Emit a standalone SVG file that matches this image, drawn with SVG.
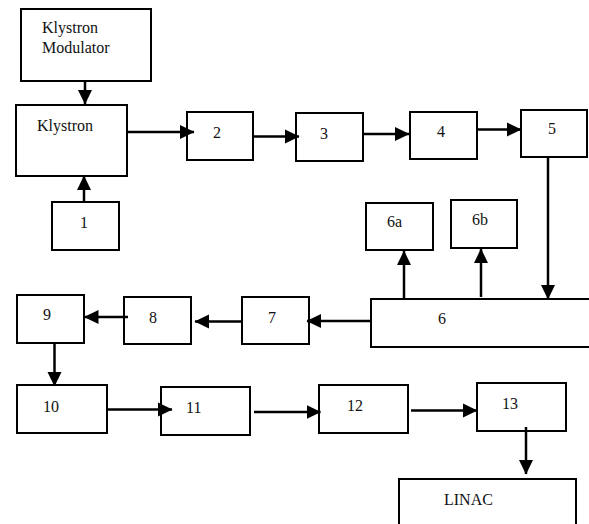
<svg xmlns="http://www.w3.org/2000/svg" width="589" height="524" viewBox="0 0 589 524">
<style>
.box{fill:#fff;stroke:#000;stroke-width:2}
.c{stroke:#000;stroke-width:2.5;fill:none;marker-end:url(#ah)}
</style>
<defs>
<marker id="ah" markerUnits="userSpaceOnUse" markerWidth="15" markerHeight="15" refX="14" refY="7.5" orient="auto" viewBox="0 0 15 15">
<path d="M0,0.5 L14.5,7.5 L0,14.5 z" fill="#000"/>
</marker>
</defs>
<rect width="589" height="524" fill="#fff"/>
<g font-family="Liberation Serif, Times New Roman, serif" font-size="16" fill="#111">
<g id="modulator"><rect class="box" x="21" y="9" width="130" height="72"/><text x="42" y="33">Klystron</text><text x="42" y="53">Modulator</text></g>
<g id="klystron"><rect class="box" x="16" y="105" width="111" height="71"/><text x="37" y="131">Klystron</text></g>
<g id="n1"><rect class="box" x="52" y="202" width="67" height="48"/><text x="80" y="228">1</text></g>
<g id="n2"><rect class="box" x="187" y="112" width="66" height="48"/><text x="213" y="138">2</text></g>
<g id="n3"><rect class="box" x="296" y="113" width="67" height="48"/><text x="320" y="139">3</text></g>
<g id="n4"><rect class="box" x="410" y="112" width="67" height="47"/><text x="437" y="137">4</text></g>
<g id="n5"><rect class="box" x="521" y="110" width="66" height="47"/><text x="548" y="134">5</text></g>
<g id="n6a"><rect class="box" x="366" y="203" width="67" height="47"/><text x="387" y="227">6a</text></g>
<g id="n6b"><rect class="box" x="451" y="200" width="66" height="48"/><text x="472" y="225">6b</text></g>
<g id="n6"><rect class="box" x="371" y="299" width="224" height="48"/><text x="438" y="324">6</text></g>
<g id="n7"><rect class="box" x="242" y="297" width="67" height="47"/><text x="268" y="323">7</text></g>
<g id="n8"><rect class="box" x="124" y="297" width="67" height="47"/><text x="149" y="323">8</text></g>
<g id="n9"><rect class="box" x="17" y="295" width="67" height="48"/><text x="43" y="320">9</text></g>
<g id="n10"><rect class="box" x="17" y="385" width="90" height="48"/><text x="43" y="412">10</text></g>
<g id="n11"><rect class="box" x="161" y="387" width="89" height="48"/><text x="186" y="413">11</text></g>
<g id="n12"><rect class="box" x="319" y="385" width="89" height="48"/><text x="347" y="411">12</text></g>
<g id="n13"><rect class="box" x="477" y="383" width="89" height="48"/><text x="502" y="409">13</text></g>
<g id="linac"><rect class="box" x="399" y="479" width="177" height="60"/><text x="444" y="505">LINAC</text></g>
</g>
<g id="connectors">
<line class="c" x1="85" y1="81" x2="85" y2="104"/>
<line class="c" x1="84" y1="202" x2="84" y2="176"/>
<line class="c" x1="127" y1="132" x2="194" y2="132"/>
<line class="c" x1="254" y1="136.5" x2="299" y2="136.5"/>
<line class="c" x1="364" y1="134" x2="409" y2="134"/>
<line class="c" x1="477" y1="129.5" x2="521" y2="129.5"/>
<line class="c" x1="548" y1="157" x2="548" y2="299"/>
<line class="c" x1="404" y1="298" x2="404" y2="251"/>
<line class="c" x1="481" y1="297" x2="481" y2="249"/>
<line class="c" x1="371" y1="321" x2="307" y2="321"/>
<line class="c" x1="242" y1="321.5" x2="195" y2="321.5"/>
<line class="c" x1="128" y1="317" x2="84.5" y2="317"/>
<line class="c" x1="54.5" y1="343" x2="54.5" y2="386"/>
<line class="c" x1="107" y1="409.5" x2="172" y2="409.5"/>
<line class="c" x1="254" y1="412" x2="320.5" y2="412"/>
<line class="c" x1="411" y1="410.5" x2="477" y2="410.5"/>
<line class="c" x1="526" y1="427" x2="526" y2="474"/>
</g>
</svg>
